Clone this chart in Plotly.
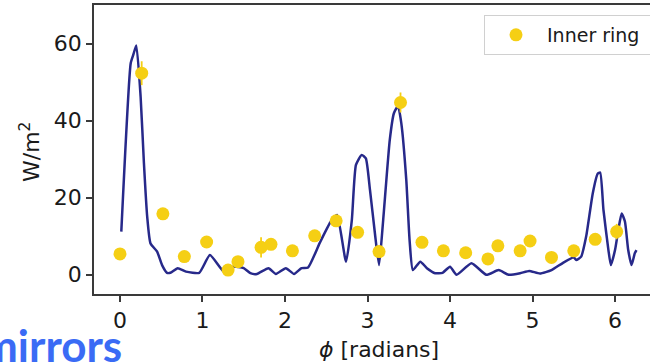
import plotly.graph_objects as go

# Model curve (line)
phi_line = [0.016, 0.13, 0.16, 0.198, 0.25, 0.29, 0.33, 0.37, 0.45, 0.51, 0.57, 0.61, 0.70, 0.80,
            0.96, 1.09, 1.26, 1.37, 1.50, 1.58, 1.66, 1.80, 1.89, 2.01, 2.11, 2.20, 2.28, 2.42,
            2.55, 2.63, 2.74, 2.81, 2.86, 2.93, 2.98, 3.03, 3.09, 3.14, 3.19, 3.27, 3.32, 3.37,
            3.41, 3.47, 3.51, 3.55, 3.64, 3.72, 3.82, 3.91, 4.00, 4.08, 4.26, 4.44, 4.59, 4.71,
            4.85, 4.96, 5.09, 5.23, 5.37, 5.50, 5.53, 5.59, 5.65, 5.73, 5.79, 5.82, 5.86, 5.92,
            5.95, 6.00, 6.04, 6.08, 6.12, 6.16, 6.20, 6.24, 6.26]
w_line = [11.2, 54.9, 57.0, 59.5, 46.2, 29.0, 15.0, 8.1, 6.0, 2.5, 0.5, 0.5, 1.7, 0.8,
          0.5, 5.1, 0.8, 2.1, 1.7, 0.4, 0.2, 1.7, 0.2, 1.7, 0.2, 1.7, 1.9, 8.2,
          13.6, 15.5, 3.4, 14.2, 28.5, 31.1, 30.2, 22.0, 10.7, 2.5, 14.2, 35.0, 41.9, 43.8,
          39.3, 24.6, 9.0, 1.2, 3.4, 1.7, 0.4, 0.5, 2.1, 0.0, 3.0, 0.0, 1.2, 0.0,
          0.4, 1.0, 0.3, 1.2, 3.1, 4.5, 3.8, 4.7, 9.9, 21.1, 26.2, 26.5, 16.8, 6.4,
          2.5, 6.4, 11.6, 15.9, 13.8, 6.4, 2.5, 5.6, 6.4]

# Inner ring measurements
phi_pts = [0.0, 0.263, 0.52, 0.78, 1.05, 1.31, 1.43, 1.71, 1.83, 2.09, 2.36, 2.62, 2.88,
           3.14, 3.40, 3.66, 3.92, 4.19, 4.46, 4.58, 4.85, 4.97, 5.23, 5.50, 5.76, 6.02]
w_pts = [5.4, 52.3, 15.8, 4.7, 8.5, 1.2, 3.4, 7.1, 7.9, 6.2, 10.1, 14.0, 11.0,
         6.0, 44.7, 8.4, 6.2, 5.7, 4.1, 7.5, 6.2, 8.75, 4.5, 6.2, 9.2, 11.2]
w_err = [1.0, 3.1, 1.0, 1.0, 1.0, 1.0, 1.0, 2.6, 1.0, 1.0, 1.0, 1.0, 1.0,
         1.0, 2.6, 1.0, 1.0, 1.0, 1.0, 1.0, 1.0, 1.0, 1.0, 1.0, 1.0, 2.0]

x_ticks = [0, 1, 2, 3, 4, 5, 6]
y_ticks = [0, 20, 40, 60]

W, H = 650, 364
ML, MR, MT, MB = 94, 0, 5, 70
PW, PH = W - ML - MR, H - MT - MB

def px_x(p):
    return (p - ML) / PW

def px_y(p):
    return 1 - (p - MT) / PH

navy = "#27298a"
gold = "#f5cf14"
axc = "#3a3a3a"

fig = go.Figure()
fig.add_trace(go.Scatter(x=phi_line, y=w_line, mode="lines",
                         line=dict(color=navy, width=2.5, shape="spline", smoothing=0.5),
                         showlegend=False, hoverinfo="skip"))
fig.add_trace(go.Scatter(x=phi_pts, y=w_pts, mode="markers", name="Inner ring\u00a0\u00a0\u00a0",
                         marker=dict(color=gold, size=13, line=dict(width=0)),
                         error_y=dict(type="data", array=w_err, color=gold, thickness=1.8, width=0)))

fig.update_layout(
    width=W, height=H,
    margin=dict(l=ML, r=MR, t=MT, b=MB, autoexpand=False),
    paper_bgcolor="white", plot_bgcolor="white",
    font=dict(family="DejaVu Sans", size=22, color="#1a1a1a"),
    xaxis=dict(range=[-0.315, 6.424], tickvals=x_ticks, showgrid=False, zeroline=False,
               showline=True, linecolor=axc, linewidth=1.5, mirror=True,
               ticks="outside", ticklen=6, tickwidth=1.5, tickcolor=axc,
               tickfont=dict(size=22), automargin=False),
    yaxis=dict(range=[-5, 70], tickvals=y_ticks, showgrid=False, zeroline=False,
               showline=True, linecolor=axc, linewidth=1.5, mirror=False,
               ticks="outside", ticklen=6, tickwidth=1.5, tickcolor=axc,
               tickfont=dict(size=22), automargin=False),
    legend=dict(x=px_x(484), y=px_y(15), xanchor="left", yanchor="top",
                bgcolor="rgba(255,255,255,0.9)", bordercolor="#d0d0d0", borderwidth=1,
                font=dict(size=19, color="#1a1a1a"), itemwidth=52),
    showlegend=True,
)

fig.add_annotation(text="W/m<sup>2</sup>", xref="paper", yref="paper",
                   x=px_x(30), y=px_y(152), xanchor="center", yanchor="middle",
                   showarrow=False, textangle=-90,
                   font=dict(size=22, family="DejaVu Sans", color="#1a1a1a"))
fig.add_annotation(text="<i>ϕ</i> [radians]", xref="paper", yref="paper",
                   x=px_x(379), y=px_y(349), xanchor="center", yanchor="middle",
                   showarrow=False,
                   font=dict(size=22, family="DejaVu Sans", color="#1a1a1a"))
fig.add_annotation(text="<b>mirrors</b>", xref="paper", yref="paper",
                   x=px_x(124), y=px_y(345), xanchor="right", yanchor="middle", showarrow=False,
                   font=dict(size=44, family="Lato", color="#3a6bf5"))

fig.write_html("out.html", config={"displayModeBar": False},
               post_script="document.body.style.margin='0';")
